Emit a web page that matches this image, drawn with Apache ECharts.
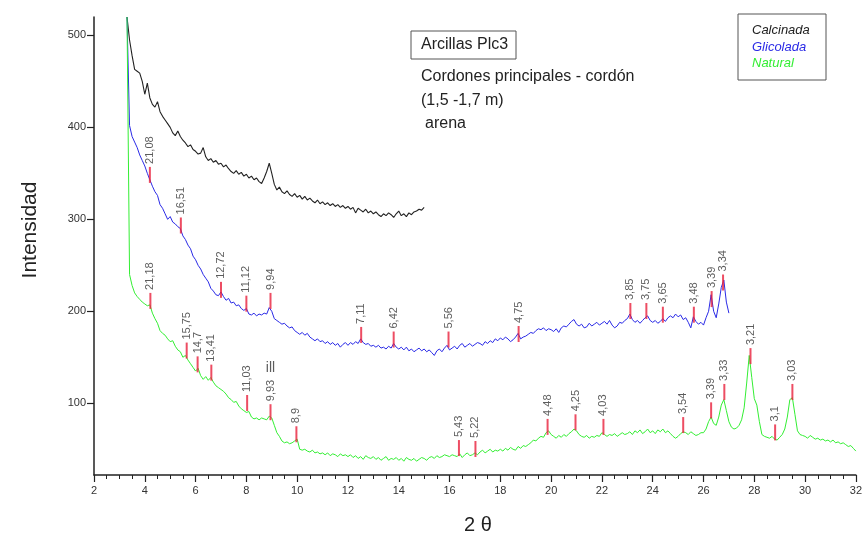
<!DOCTYPE html>
<html>
<head>
<meta charset="utf-8">
<script src="https://cdn.jsdelivr.net/npm/echarts@6/dist/echarts.min.js"></script>
<style>
html,body{margin:0;padding:0;background:#fff;}
#chart{width:865px;height:537px;}
</style>
</head>
<body>
<div id="chart"></div>
<script>
// 2θ grid: first sample and step (degrees)
const thetaStart = 3.3;
const thetaStep = 0.1;

// Calcinada (3.3 .. 15.0)
const calcinada = [
 520, 495, 478, 463, 461, 459, 450,
 436, 448, 432, 425, 422, 428, 417, 412, 408, 404,
 400, 394, 391, 396, 390, 386, 383, 379, 381, 376,
 374, 371, 372, 378, 368, 364, 366, 362, 364, 360,
 361, 357, 359, 355, 352, 350, 353, 349, 351, 347,
 349, 345, 347, 343, 345, 341, 339, 345, 352, 361,
 350, 338, 332, 335, 330, 328, 331, 327, 325, 328,
 324, 326, 322, 325, 321, 323, 320, 318, 321, 317,
 319, 316, 318, 315, 317, 314, 316, 313, 315, 312,
 314, 311, 313, 307, 312, 310, 308, 311, 307, 309,
 306, 308, 305, 303, 306, 304, 307, 305, 302, 306,
 309, 304, 306, 303, 307, 305, 308, 309, 311, 310,
 313
];

// Glicolada (3.3 .. 27.0)
const glicolada = [
 520, 402, 390, 384, 378, 370, 364,
 358, 350, 343, 336, 330, 326, 316, 312, 306, 300,
 303, 297, 295, 292, 290, 282, 278, 272, 268, 260,
 256, 250, 246, 240, 236, 232, 225, 222, 218, 217,
 221, 216, 212, 214, 209, 210, 206, 207, 203, 201,
 203, 197, 196, 198, 195, 197, 196, 198, 197, 204,
 200, 192, 190, 188, 186, 187, 184, 182, 183, 179,
 177, 175, 177, 174, 176, 172, 170, 168, 170, 167,
 168, 165, 167, 164, 166, 163, 165, 161, 164, 166,
 163, 166, 164, 167, 165, 170, 166, 164, 165, 162,
 163, 161, 163, 160, 161, 159, 162, 160, 165, 161,
 159, 161, 158, 161, 157, 159, 156, 158, 160, 157,
 159, 156, 158, 155, 152, 157, 159, 156, 160, 163,
 158, 160, 162, 159, 163, 165, 161, 163, 165, 162,
 164, 166, 165, 163, 167, 165, 168, 166, 170, 168,
 171, 169, 172, 170, 167, 169, 172, 176, 170, 172,
 173, 175, 177, 176, 179, 181, 180, 182, 179, 181,
 180, 178, 181, 177, 182, 184, 183, 186, 189, 191,
 186, 184, 186, 182, 183, 187, 184, 186, 188, 185,
 187, 189, 186, 190, 185, 182, 184, 188, 187, 190,
 192, 197, 191, 188, 190, 187, 190, 193, 195, 190,
 188, 190, 187, 189, 192, 189, 193, 195, 193, 197,
 194, 196, 191, 193, 188, 182, 194, 189, 186, 188,
 185, 193, 200, 218, 200, 193, 208, 226, 234, 210,
 198
];

// Natural (3.3 .. 32.0)
const natural = [
 520, 240, 228, 220, 216, 213, 210,
 208, 206, 207, 198, 192, 187, 179, 176, 174, 170,
 167, 168, 162, 158, 156, 150, 152, 147, 143, 139,
 135, 138, 130, 126, 129, 125, 128, 123, 119, 117,
 115, 113, 110, 106, 104, 101, 102, 97, 94, 92,
 90, 91, 85, 83, 84, 82, 84, 83, 82, 86,
 84, 76, 68, 64, 59, 57, 58, 56, 57, 59,
 61, 50, 49, 50, 48, 47, 49, 46, 47, 45,
 46, 44, 46, 43, 45, 44, 42, 45, 43, 44,
 42, 44, 41, 43, 40, 42, 39, 43, 41, 40,
 42, 39, 41, 38, 40, 42, 38, 40, 39, 41,
 38, 40, 37, 41, 39, 38, 40, 37, 39, 41,
 40, 38, 41, 42, 40, 43, 41, 42, 44, 43,
 42, 44, 43, 42, 45, 41, 44, 46, 43, 44,
 46, 44, 47, 49, 46, 48, 50, 47, 49, 48,
 50, 48, 51, 49, 52, 50, 49, 53, 51, 54,
 53, 55, 57, 60, 59, 62, 64, 63, 68, 70,
 66, 64, 62, 65, 63, 66, 64, 67, 69, 72,
 70, 66, 64, 63, 65, 62, 64, 63, 65, 64,
 68, 66, 64, 66, 65, 67, 64, 66, 68, 66,
 67, 69, 66, 70, 68, 71, 67, 69, 72, 68,
 70, 67, 71, 69, 72, 68, 70, 67, 64, 62,
 64, 67, 69, 68, 66, 69, 67, 65, 66, 68,
 68, 72, 80, 85, 78, 76, 85, 98, 104, 92,
 80, 74, 72, 73, 76, 82, 95, 122, 152, 128,
 105, 98, 80, 66, 64, 63, 62, 64, 61, 60,
 63, 66, 72, 85, 104, 106, 88, 70, 66, 65,
 64, 62, 65, 63, 61, 62, 60, 61, 59, 60,
 58, 60, 57, 58, 56, 57, 55, 53, 54, 51,
 48
];

// Peak marks (d-spacing labels) on Glicolada
const glicLabels = ['21,08','16,51','12,72','11,12','9,94','7,11','6,42','5,56','4,75','3,85','3,75','3,65','3,48','3,39','3,34'];
const glicPeakX  = [4.2, 5.42, 7.0, 8.0, 8.95, 12.52, 13.8, 15.96, 18.72, 23.12, 23.75, 24.4, 25.62, 26.32, 26.77];
const glicPeakY  = [357, 302, 232, 217, 220, 183, 178, 178, 184, 209, 209, 205, 205, 222, 240];

// Peak marks on Natural
const natLabels = ['21,18','15,75','14,7','13,41','11,03','9,93','8,9','5,43','5,22','4,48','4,25','4,03','3,54','3,39','3,33','3,21','3,1','3,03'];
const natPeakX  = [4.22, 5.65, 6.08, 6.62, 8.03, 8.95, 9.97, 16.37, 17.02, 19.86, 20.96, 22.06, 25.2, 26.3, 26.82, 27.85, 28.82, 29.5];
const natPeakY  = [220, 166, 151, 142, 109, 99, 75, 60, 59, 83, 88, 83, 85, 101, 121, 160, 77, 121];

// Annotation "ill" (2θ, intensity)
const illNote = [[8.95, 138, 'ill']];

const xTicks = [2,4,6,8,10,12,14,16,18,20,22,24,26,28,30,32];
const yTicks = [100, 200, 300, 400, 500];

function toPairs(arr) {
  return arr.map((v, i) => [Math.round((thetaStart + i * thetaStep) * 10) / 10, v]);
}
function peaks(xs, ys, labels) {
  return xs.map((x, i) => [x, ys[i], labels[i]]);
}

const FONT = '"Liberation Sans", Arial, sans-serif';
const chart = echarts.init(document.getElementById('chart'), null, {renderer: 'canvas'});

const peakSeries = (data) => ({
  type: 'scatter',
  data: data,
  z: 5,
  symbol: 'rect',
  symbolSize: [2, 16],
  symbolOffset: [0, 8],
  itemStyle: {color: '#e8203c'},
  label: {
    show: true,
    position: 'top',
    distance: 3,
    rotate: 90,
    align: 'left',
    verticalAlign: 'middle',
    formatter: p => p.value[2],
    color: '#333',
    fontSize: 11,
    fontFamily: FONT
  },
  emphasis: {disabled: true},
  silent: true
});

chart.setOption({
  animation: false,
  backgroundColor: '#fff',
  grid: {left: 94, right: 6, top: 17, bottom: 62, containLabel: false},
  xAxis: {
    type: 'value',
    min: 2, max: 32, interval: 2,
    axisLine: {show: true, onZero: false, lineStyle: {color: '#222', width: 1.5}},
    axisTick: {show: true, inside: false, length: 7, lineStyle: {color: '#222', width: 1.2}},
    minorTick: {show: true, splitNumber: 4, length: 4, lineStyle: {color: '#222', width: 1}},
    splitLine: {show: false},
    axisLabel: {color: '#333', fontSize: 11, fontFamily: FONT, margin: 10,
      customValues: xTicks}
  },
  yAxis: {
    type: 'value',
    min: 22, max: 520,
    axisLine: {show: true, onZero: false, lineStyle: {color: '#222', width: 1.5}},
    axisTick: {show: true, length: 7, lineStyle: {color: '#222', width: 1.2}, customValues: yTicks},
    splitLine: {show: false},
    axisLabel: {color: '#333', fontSize: 11, fontFamily: FONT, margin: 8, customValues: yTicks}
  },
  series: [
    {name: 'Calcinada', type: 'line', data: toPairs(calcinada), showSymbol: false, symbol: 'none',
     lineStyle: {color: '#222', width: 1.1}, z: 3, silent: true},
    {name: 'Glicolada', type: 'line', data: toPairs(glicolada), showSymbol: false, symbol: 'none',
     lineStyle: {color: '#2a2ae6', width: 1}, z: 3, silent: true},
    {name: 'Natural', type: 'line', data: toPairs(natural), showSymbol: false, symbol: 'none',
     lineStyle: {color: '#33ee33', width: 1}, z: 3, silent: true},
    peakSeries(peaks(glicPeakX, glicPeakY, glicLabels)),
    peakSeries(peaks(natPeakX, natPeakY, natLabels)),
    {type: 'scatter', data: illNote, symbolSize: 0, z: 6, silent: true,
     label: {show: true, position: 'inside', rotate: 0, formatter: p => p.value[2], color: '#333', fontSize: 14, fontFamily: FONT}}
  ],
  graphic: [
    {type: 'text', x: 30, y: 230, rotation: Math.PI / 2,
     style: {text: 'Intensidad', font: '21px ' + FONT, fill: '#222', textAlign: 'center', textVerticalAlign: 'middle'}},
    {type: 'text', style: {text: '2 θ', x: 478, y: 525, font: '20px ' + FONT, fill: '#222',
     textAlign: 'center', textVerticalAlign: 'middle'}},
    {type: 'rect', shape: {x: 411, y: 31, width: 105, height: 28},
     style: {fill: '#fff', stroke: '#555', lineWidth: 1}},
    {type: 'text', style: {text: 'Arcillas Plc3', x: 421, y: 45, font: '16px ' + FONT, fill: '#222', textVerticalAlign: 'middle'}},
    {type: 'text', style: {text: 'Cordones principales - cordón', x: 421, y: 77, font: '16px ' + FONT, fill: '#222', textVerticalAlign: 'middle'}},
    {type: 'text', style: {text: '(1,5 -1,7 m)', x: 421, y: 101, font: '16px ' + FONT, fill: '#222', textVerticalAlign: 'middle'}},
    {type: 'text', style: {text: 'arena', x: 425, y: 124, font: '16px ' + FONT, fill: '#222', textVerticalAlign: 'middle'}},
    {type: 'rect', shape: {x: 738, y: 14, width: 88, height: 66},
     style: {fill: '#fff', stroke: '#555', lineWidth: 1}},
    {type: 'text', style: {text: 'Calcinada', x: 752, y: 30, font: 'italic 13px ' + FONT, fill: '#222', textVerticalAlign: 'middle'}},
    {type: 'text', style: {text: 'Glicolada', x: 752, y: 47, font: 'italic 13px ' + FONT, fill: '#2a2ae6', textVerticalAlign: 'middle'}},
    {type: 'text', style: {text: 'Natural', x: 752, y: 63, font: 'italic 13px ' + FONT, fill: '#33ee33', textVerticalAlign: 'middle'}}
  ]
});
</script>
</body>
</html>
